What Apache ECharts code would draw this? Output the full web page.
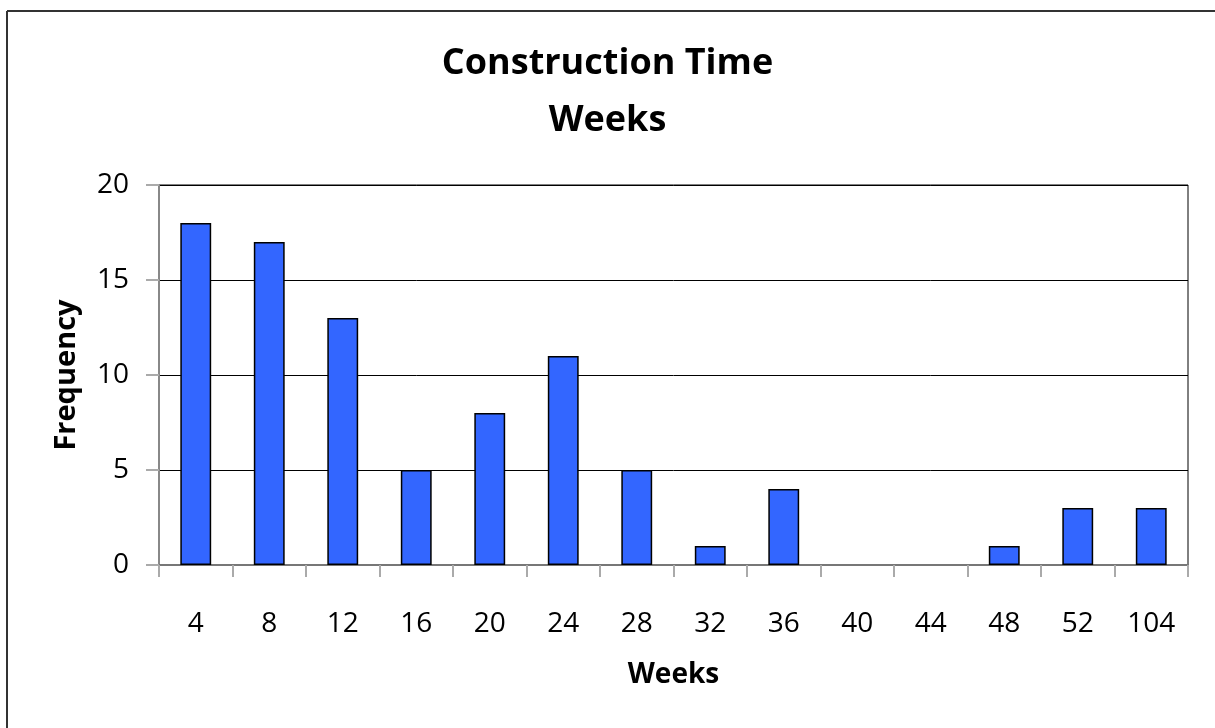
<!DOCTYPE html>
<html>
<head>
<meta charset="utf-8">
<title>Construction Time</title>
<script src="https://cdn.jsdelivr.net/npm/echarts@6/dist/echarts.min.js"></script>
<style>
	html, body { margin: 0; padding: 0; background: #fff; }
	#chart { width: 1215px; height: 728px; }
</style>
</head>
<body>
<div id="chart"></div>
<script>
// weeks (category labels) and how many projects took that long
const weeks = ['4', '8', '12', '16', '20', '24', '28', '32', '36', '40', '44', '48', '52', '104'];
const frequency = [18, 17, 13, 5, 8, 11, 5, 1, 4, 0, 0, 1, 3, 3];
const yTicks = { min: 0, max: 20, interval: 5 };

const font = '"Open Sans", "Noto Sans", sans-serif';
const chart = echarts.init(document.getElementById('chart'));

const option = {
	backgroundColor: '#fff',
	animation: false,
	title: {
		text: 'Construction Time\nWeeks',
		left: 'center',
		top: 30,
		textStyle: {
			fontFamily: font,
			fontSize: 36,
			fontWeight: 'bold',
			color: '#000',
			lineHeight: 57,
		},
	},
	// outer frame, only top and left edges are in view
	graphic: [
		{ type: 'line', shape: { x1: 7, y1: 11, x2: 1215, y2: 11 }, style: { stroke: '#333', lineWidth: 2 } },
		{ type: 'line', shape: { x1: 7, y1: 11, x2: 7, y2: 728 }, style: { stroke: '#333', lineWidth: 2 } },
	],
	grid: {
		left: 159,
		right: 27,
		top: 185,
		bottom: 163,
		show: true,
		borderColor: '#000',
		borderWidth: 1,
	},
	xAxis: {
		type: 'category',
		data: weeks,
		name: 'Weeks',
		nameLocation: 'middle',
		nameGap: 96,
		nameTextStyle: { fontFamily: font, fontSize: 28, fontWeight: 'bold', color: '#000' },
		axisLine: { show: true, lineStyle: { color: '#777', width: 2 } },
		axisTick: { show: true, length: 12, lineStyle: { color: '#aaa', width: 2 } },
		axisLabel: { fontFamily: font, fontSize: 28, color: '#000', margin: 45 },
		splitLine: { show: false },
	},
	yAxis: {
		type: 'value',
		min: yTicks.min,
		max: yTicks.max,
		interval: yTicks.interval,
		name: 'Frequency',
		nameLocation: 'middle',
		nameGap: 78,
		nameRotate: 90,
		nameTextStyle: { fontFamily: font, fontSize: 29, fontWeight: 'bold', color: '#000' },
		axisLine: { show: true, lineStyle: { color: '#888', width: 2 } },
		axisTick: { show: true, length: 13, lineStyle: { color: '#aaa', width: 2 } },
		axisLabel: { fontFamily: font, fontSize: 28, color: '#000', margin: 30 },
		splitLine: { show: true, lineStyle: { color: '#000', width: 1 } },
	},
	series: [
		{
			type: 'bar',
			// empty classes draw no bar at all
			data: frequency.map((v) => (v === 0 ? '-' : v)),
			barWidth: '42%',
			itemStyle: {
				color: '#3366FF',
				borderColor: '#000',
				borderWidth: 1.5,
			},
		},
	],
};

chart.setOption(option);
</script>
</body>
</html>
